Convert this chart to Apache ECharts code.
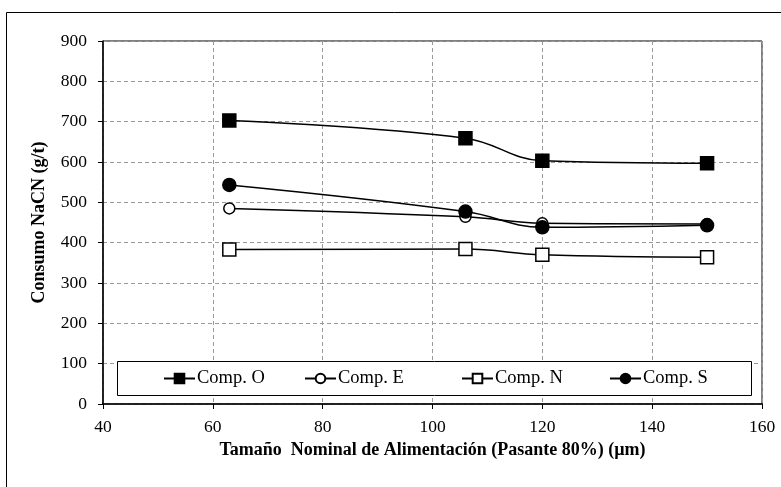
<!DOCTYPE html>
<html><head><meta charset="utf-8">
<script src="https://cdn.jsdelivr.net/npm/echarts@6/dist/echarts.min.js"></script>
<style>html,body{margin:0;padding:0;background:#fff}#c{width:781px;height:487px}</style>
</head><body><div id="c"></div>
<script>
const xValues = [63, 106, 120, 150];
const compO = [703, 659, 603, 597];
const compE = [485, 464, 448, 446];
const compN = [383, 384, 370, 364];
const compS = [543, 477, 438, 443];
const seriesNames = ['Comp. O', 'Comp. E', 'Comp. N', 'Comp. S'];
const xTitle = 'Tamaño  Nominal de Alimentación (Pasante 80%) (µm)';
const yTitle = 'Consumo NaCN (g/t)';

const font = '"Liberation Serif", "Times New Roman", serif';
const chart = echarts.init(document.getElementById('c'), null, {renderer: 'canvas'});
function pairs(vals) { return xValues.map((x, i) => [x, vals[i]]); }
const styles = [
  {symbol: 'rect', size: 13, fill: '#000'},
  {symbol: 'circle', size: 11, fill: '#fff'},
  {symbol: 'rect', size: 13, fill: '#fff'},
  {symbol: 'circle', size: 13, fill: '#000'}
];
const dataSets = [compO, compE, compN, compS];
const legendLefts = [163, 304, 461, 609];
chart.setOption({
  animation: false,
  textStyle: {fontFamily: font},
  grid: {left: 103, right: 19, top: 41, bottom: 83, show: true, borderColor: '#000', borderWidth: 1},
  xAxis: {
    type: 'value', min: 40, max: 160, interval: 20,
    name: xTitle, nameLocation: 'middle', nameGap: 37,
    nameTextStyle: {fontFamily: font, fontWeight: 'bold', fontSize: 18, color: '#000'},
    axisLine: {lineStyle: {color: '#000', width: 1.5}},
    axisTick: {show: true, length: 5, lineStyle: {color: '#000'}},
    axisLabel: {color: '#000', fontFamily: font, fontSize: 17.5, margin: 14},
    splitLine: {show: true, lineStyle: {color: '#9a9a9a', type: [4, 3], width: 1}}
  },
  yAxis: {
    type: 'value', min: 0, max: 900, interval: 100,
    name: yTitle, nameLocation: 'middle', nameGap: 55,
    nameTextStyle: {fontFamily: font, fontWeight: 'bold', fontSize: 18, color: '#000'},
    axisLine: {show: true, lineStyle: {color: '#000', width: 1.5}},
    axisTick: {show: true, length: 5, lineStyle: {color: '#000'}},
    axisLabel: {color: '#000', fontFamily: font, fontSize: 17.5, margin: 16},
    splitLine: {show: true, lineStyle: {color: '#9a9a9a', type: [4, 3], width: 1}}
  },
  legend: seriesNames.map((n, i) => ({
    data: [n], left: legendLefts[i], top: 369, itemWidth: 31, itemHeight: 12,
    textStyle: {fontFamily: font, fontSize: 18.5, color: '#000', padding: [0, 0, 0, -3]}, padding: 0, itemGap: 4
  })),
  graphic: [
    {type: 'rect', shape: {x: 6.5, y: 12.5, width: 900, height: 600}, style: {fill: 'none', stroke: '#000', lineWidth: 1}, silent: true},
    {type: 'rect', shape: {x: 117.5, y: 361.5, width: 634, height: 34}, style: {fill: '#fff', stroke: '#000', lineWidth: 1}, silent: true, z: 1}
  ],
  series: seriesNames.map((n, i) => ({
    name: n, type: 'line', data: pairs(dataSets[i]), smooth: 0.4,
    symbol: styles[i].symbol, symbolSize: styles[i].size,
    lineStyle: {color: '#000', width: 1.5},
    itemStyle: {color: styles[i].fill, borderColor: '#000', borderWidth: 1.5},
    z: 3
  }))
});
</script></body></html>
